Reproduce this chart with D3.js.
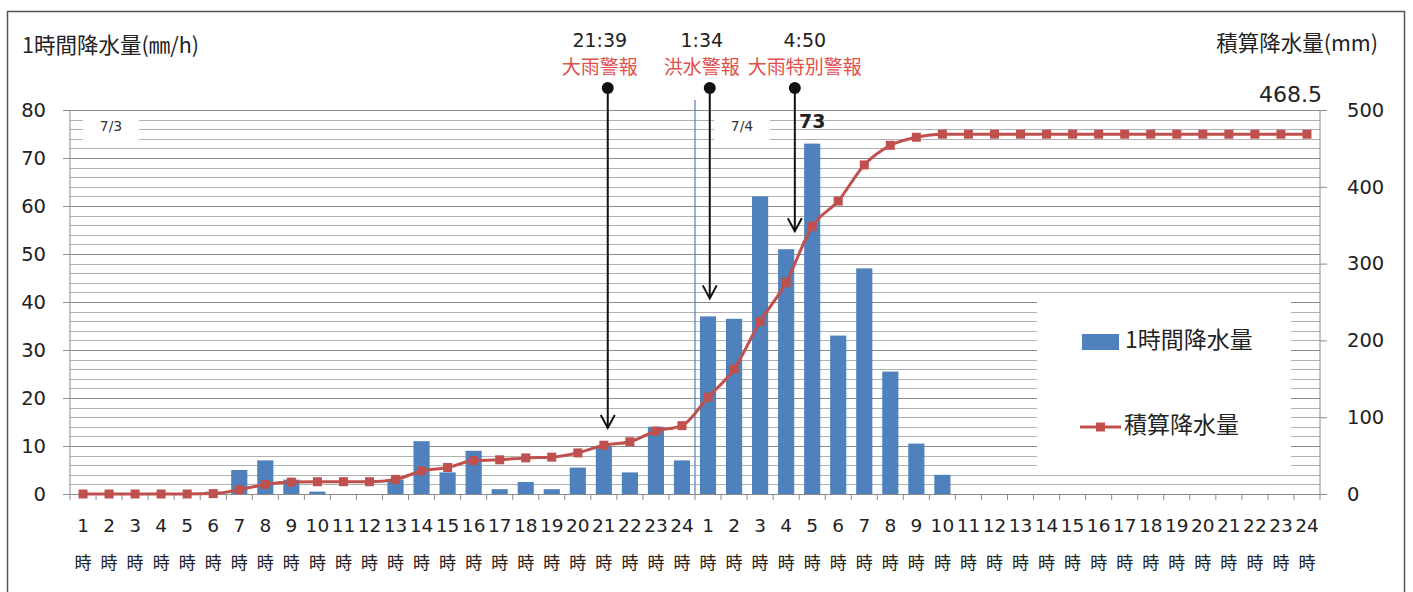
<!DOCTYPE html>
<html>
<head>
<meta charset="utf-8">
<script src="https://cdnjs.cloudflare.com/ajax/libs/d3/7.8.5/d3.min.js"></script>
<style>
body { margin: 0; background: #fff; }
svg { display: block; }
.num { font-family: "DejaVu Sans", Verdana, sans-serif; }
.jp { font-family: "Noto Sans CJK JP", sans-serif; }
</style>
</head>
<body>
<svg width="1413" height="592"></svg>
<script>
// hours of the two days (7/3, 7/4)
const days = ["7/3", "7/4"];
const hours = d3.range(1, 25);

// 1時間降水量 (mm/h), 7/3 1時..24時 then 7/4 1時..24時
const rain73 = [0, 0, 0, 0, 0, 0.5, 5, 7, 3, 0.5, 0, 0, 3, 11, 4.5, 9, 1, 2.5, 1, 5.5, 10, 4.5, 14, 7];
const rain74 = [37, 36.5, 62, 51, 73, 33, 47, 25.5, 10.5, 4, 0, 0, 0, 0, 0, 0, 0, 0, 0, 0, 0, 0, 0, 0];

// 積算降水量 (mm)
const cum73 = [0, 0, 0, 0, 0, 0.5, 5.5, 12.5, 15.5, 16, 16, 16, 19, 30, 34.5, 43.5, 44.5, 47, 48, 53.5, 63.5, 68, 82, 89];
const cum74 = [126, 162.5, 224.5, 275.5, 348.5, 381.5, 428.5, 454, 464.5, 468.5, 468.5, 468.5, 468.5, 468.5,
               468.5, 468.5, 468.5, 468.5, 468.5, 468.5, 468.5, 468.5, 468.5, 468.5];

// warnings: day index, hour, minute
const warnings = [
  {day: 0, h: 21, m: 39, time: "21:39", name: "大雨警報"},
  {day: 1, h: 1, m: 34, time: "1:34", name: "洪水警報"},
  {day: 1, h: 4, m: 50, time: "4:50", name: "大雨特別警報"}
];
const warnLabelShift = [-8, -8, 10];

const leftTicks = d3.range(0, 81, 10);
const rightTicks = d3.range(0, 501, 100);

const rows = [];
days.forEach((d, di) => hours.forEach((h, hi) => {
  rows.push({
    i: di * 24 + hi, day: d, hour: h,
    rain: (di ? rain74 : rain73)[hi],
    cum: (di ? cum74 : cum73)[hi]
  });
}));

const blue = "#4f81bd", red = "#c0504d";
const L = 70, R = 1320, T = 110, B = 494;

const svg = d3.select("svg");

// outer frame
svg.append("rect").attr("x", 7.5).attr("y", 11.5).attr("width", 1397).attr("height", 600)
  .attr("fill", "none").attr("stroke", "#555").attr("stroke-width", 1.5);

const x = d3.scaleBand().domain(rows.map(d => d.i)).range([L, R])
  .paddingInner(0.38).paddingOuter(0.19);
const step = x.step();
const cx = i => x(i) + x.bandwidth() / 2;
const yL = d3.scaleLinear().domain([0, 80]).range([B, T]);
const yR = d3.scaleLinear().domain([0, 500]).range([B, T]);

// gridlines
const grid = svg.append("g");
grid.selectAll("line").data(d3.range(2, 81, 2)).join("line")
  .attr("x1", d => d % 10 === 0 ? L - 7 : L).attr("x2", R)
  .attr("y1", d => Math.round(yL(d)) + 0.5).attr("y2", d => Math.round(yL(d)) + 0.5)
  .attr("stroke", d => d % 10 === 0 ? "#8c8c8c" : "#b0b0b0").attr("stroke-width", 1);

// day boxes covering gridlines
days.forEach((label, di) => {
  const bx = L + di * 24 * step + (di ? 19 : 13);
  svg.append("rect").attr("x", bx).attr("y", T + 3).attr("width", 56).attr("height", 31).attr("fill", "#fff");
  svg.append("text").attr("class", "num").attr("x", bx + 28).attr("y", T + 17)
    .attr("text-anchor", "middle").attr("dominant-baseline", "middle")
    .attr("font-size", 14).attr("fill", "#333").text(label);
});

// legend box (covers gridlines)
const lg = svg.append("g");
lg.append("rect").attr("x", 1037).attr("y", 297).attr("width", 254).attr("height", 173).attr("fill", "#fff");

// axes
const axL = svg.append("g").attr("transform", `translate(${L},0)`)
  .call(d3.axisLeft(yL).tickValues(leftTicks).tickSize(7).tickPadding(17));
const axR = svg.append("g").attr("transform", `translate(${R},0)`)
  .call(d3.axisRight(yR).tickValues(rightTicks).tickSize(7).tickPadding(20));
[axL, axR].forEach(a => {
  a.select(".domain").attr("stroke", "#8c8c8c");
  a.selectAll(".tick line").attr("stroke", "#8c8c8c");
  a.selectAll(".tick text").attr("class", "num").attr("font-size", 19.5).attr("fill", "#222");
});
axL.select(".domain").attr("d", `M0,${B}V${T}`);
axR.select(".domain").attr("d", `M0,${B}V${T}`);

// x axis line + ticks
svg.append("line").attr("x1", L).attr("x2", R).attr("y1", B + 0.5).attr("y2", B + 0.5).attr("stroke", "#8c8c8c");
svg.append("g").selectAll("line").data(d3.range(0, 49)).join("line")
  .attr("x1", d => L + d * step).attr("x2", d => L + d * step)
  .attr("y1", B).attr("y2", B + 6).attr("stroke", "#8c8c8c");

// x labels
const xl = svg.append("g");
xl.selectAll("text.h").data(rows).join("text").attr("class", "num")
  .attr("x", d => cx(d.i)).attr("y", 527).attr("text-anchor", "middle").attr("dominant-baseline", "middle")
  .attr("font-size", 18.5).attr("fill", "#222").text(d => d.hour);
xl.selectAll("text.j").data(rows).join("text").attr("class", "jp")
  .attr("x", d => cx(d.i)).attr("y", 564).attr("text-anchor", "middle").attr("dominant-baseline", "middle")
  .attr("font-size", 17).attr("fill", "#222").text("時");

// day separator
svg.append("line").attr("x1", L + 24 * step).attr("x2", L + 24 * step).attr("y1", 100).attr("y2", B)
  .attr("stroke", blue).attr("stroke-width", 1.2);

// bars
svg.append("g").selectAll("rect").data(rows.filter(d => d.rain > 0)).join("rect")
  .attr("x", d => x(d.i)).attr("width", x.bandwidth())
  .attr("y", d => yL(d.rain)).attr("height", d => B - yL(d.rain)).attr("fill", blue);

// max label
const maxRow = rows.reduce((a, b) => b.rain > a.rain ? b : a);
svg.append("text").attr("class", "num").attr("x", cx(maxRow.i)).attr("y", yL(maxRow.rain) - 21)
  .attr("text-anchor", "middle").attr("dominant-baseline", "middle")
  .attr("font-size", 19).attr("font-weight", "bold").attr("fill", "#222").text(maxRow.rain);

// cumulative line
const line = d3.line().x(d => cx(d.i)).y(d => yR(d.cum)).curve(d3.curveMonotoneX);
svg.append("path").datum(rows).attr("d", line).attr("fill", "none").attr("stroke", red).attr("stroke-width", 3);
svg.append("g").selectAll("rect").data(rows).join("rect")
  .attr("x", d => cx(d.i) - 4.5).attr("y", d => yR(d.cum) - 4.5).attr("width", 9).attr("height", 9).attr("fill", red);

// total label
const last = rows[rows.length - 1];
svg.append("text").attr("class", "num").attr("x", R + 2).attr("y", 96).attr("text-anchor", "end")
  .attr("dominant-baseline", "middle").attr("font-size", 22).attr("fill", "#222").text(last.cum);

// titles
svg.append("text").attr("class", "jp").attr("x", 22).attr("y", 47).attr("dominant-baseline", "middle")
  .attr("font-size", 21.5).attr("fill", "#222").text("1時間降水量(㎜/h)");
svg.append("text").attr("class", "jp").attr("x", 1378).attr("y", 45).attr("text-anchor", "end")
  .attr("dominant-baseline", "middle").attr("font-size", 21.5).attr("fill", "#222").text("積算降水量(mm)");

// warnings
warnings.forEach((w, k) => {
  const idx = w.day * 24 + w.h - 1;
  const ax = L + idx * step + step * (w.m / 60);
  const tip = yL(rows[idx].rain) - 18;
  const g = svg.append("g");
  g.append("line").attr("x1", ax).attr("x2", ax).attr("y1", 88).attr("y2", tip)
    .attr("stroke", "#111").attr("stroke-width", 2);
  g.append("path").attr("d", `M${ax - 7},${tip - 13}L${ax},${tip}L${ax + 7},${tip - 13}`)
    .attr("fill", "none").attr("stroke", "#111").attr("stroke-width", 2);
  g.append("circle").attr("cx", ax).attr("cy", 88).attr("r", 6).attr("fill", "#111");
  const tx = ax + warnLabelShift[k];
  g.append("text").attr("class", "num").attr("x", tx).attr("y", 41).attr("text-anchor", "middle")
    .attr("dominant-baseline", "middle").attr("font-size", 19).attr("fill", "#222").text(w.time);
  g.append("text").attr("class", "jp").attr("x", tx).attr("y", 69).attr("text-anchor", "middle")
    .attr("dominant-baseline", "middle").attr("font-size", 19).attr("fill", "#e2504c").text(w.name);
});

// legend
lg.append("rect").attr("x", 1082).attr("y", 334).attr("width", 37).attr("height", 16).attr("fill", blue);
lg.append("text").attr("class", "jp").attr("x", 1125).attr("y", 342).attr("dominant-baseline", "middle")
  .attr("font-size", 23).attr("fill", "#222").text("1時間降水量");
lg.append("line").attr("x1", 1080).attr("x2", 1121).attr("y1", 427).attr("y2", 427).attr("stroke", red).attr("stroke-width", 3);
lg.append("rect").attr("x", 1096).attr("y", 422.5).attr("width", 9).attr("height", 9).attr("fill", red);
lg.append("text").attr("class", "jp").attr("x", 1124).attr("y", 427).attr("dominant-baseline", "middle")
  .attr("font-size", 23).attr("fill", "#222").text("積算降水量");
</script>
</body>
</html>
